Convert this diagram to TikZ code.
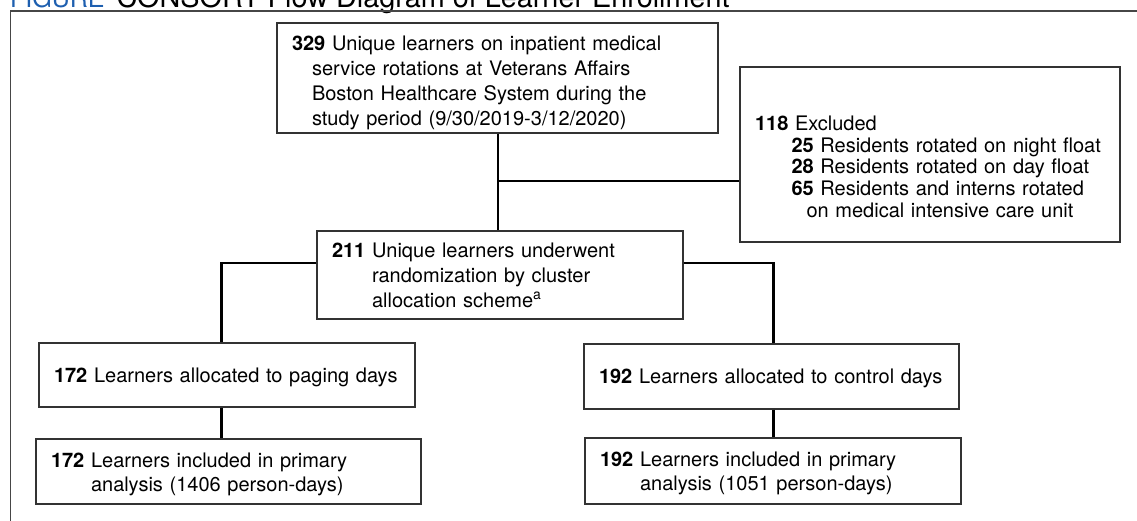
\documentclass[tikz,border=0pt]{standalone}
\usepackage{fontspec}
\setmainfont{TeX Gyre Heros}
\definecolor{figblue}{RGB}{30,95,175}
\definecolor{framegray}{RGB}{70,70,70}

\begin{document}
\begin{tikzpicture}[x=1pt, y=-1pt, every node/.style={font=\fontsize{20}{25}\selectfont},
  box/.style={draw=black!80, line width=1.4pt, rectangle, inner xsep=15pt, inner ysep=0pt, align=left},
  link/.style={draw=black, line width=2.6pt}]
\useasboundingbox (0,0) rectangle (1137,521);
\clip (0,0) rectangle (1137,521);
\node[anchor=base west, inner sep=0pt, font=\fontsize{28.8}{30}\selectfont] (title) at (10,7.5) {\textcolor{figblue}{\fontsize{25}{25}\selectfont FIGURE}\hspace{12pt}CONSORT Flow Diagram of Learner Enrollment};
\draw[framegray, line width=1.4pt] (10.5,530) -- (10.5,11) -- (1145,11);
\node[box, minimum width=441pt, text width=411pt, text height=27.5pt, text depth=82.5pt] (G1N0) at (497.5,78) {\textbf{329} Unique learners on inpatient medical\\\hspace*{20pt}service rotations at Veterans Affairs\\\hspace*{20pt}Boston Healthcare System during the\\\hspace*{20pt}study period (9/30/2019-3/12/2020)};
\node[box, minimum width=380pt, text width=350pt, text height=63.5pt, text depth=111.5pt, font=\fontsize{20}{21.7}\selectfont] (G1N1) at (930,154.5) {\textbf{118} Excluded\\\hspace*{36.5pt}\textbf{25} Residents rotated on night float\\\hspace*{36.5pt}\textbf{28} Residents rotated on day float\\\hspace*{36.5pt}\textbf{65} Residents and interns rotated\\\hspace*{51.5pt}on medical intensive care unit};
\node[box, minimum width=366pt, text width=336pt, text height=26.5pt, text depth=61.5pt] (G1N2) at (500,275) {\textbf{211} Unique learners underwent\\\phantom{\textbf{211}\ }randomization by cluster\\\phantom{\textbf{211}\ }allocation scheme\textsuperscript{a}};
\node[box, minimum width=376pt, text width=346pt, text height=39pt, text depth=25pt] (G1N3) at (227,375) {\textbf{172} Learners allocated to paging days};
\node[box, minimum width=375pt, text width=345pt, text height=39.5pt, text depth=25.5pt] (G1N4) at (771.5,376.5) {\textbf{192} Learners allocated to control days};
\node[box, minimum width=385pt, text width=355pt, text height=28pt, text depth=37pt, font=\fontsize{20}{24}\selectfont] (G1N5) at (228.5,471.5) {\textbf{172} Learners included in primary\\\phantom{\textbf{172}\ }analysis (1406 person-days)};
\node[box, minimum width=376pt, text width=346pt, text height=28.5pt, text depth=37.5pt, font=\fontsize{20}{24}\selectfont] (G1N6) at (773,471) {\textbf{192} Learners included in primary\\\phantom{\textbf{192}\ }analysis (1051 person-days)};
\coordinate (G1S) at (498,181);
\coordinate (G1L) at (221.5,263);
\coordinate (G1R) at (773.5,263);
\draw[link] (G1N0.south -| G1S) -- (G1N2.north -| G1S);
\draw[link] (G1S) -- (G1S -| G1N1.west);
\draw[link] (G1L -| G1N2.west) -- (G1L) -- (G1L |- G1N3.north);
\draw[link] (G1R -| G1N2.east) -- (G1R) -- (G1R |- G1N4.north);
\draw[link] (G1L |- G1N3.south) -- (G1L |- G1N5.north);
\draw[link] (G1R |- G1N4.south) -- (G1R |- G1N6.north);
\end{tikzpicture}
\end{document}
